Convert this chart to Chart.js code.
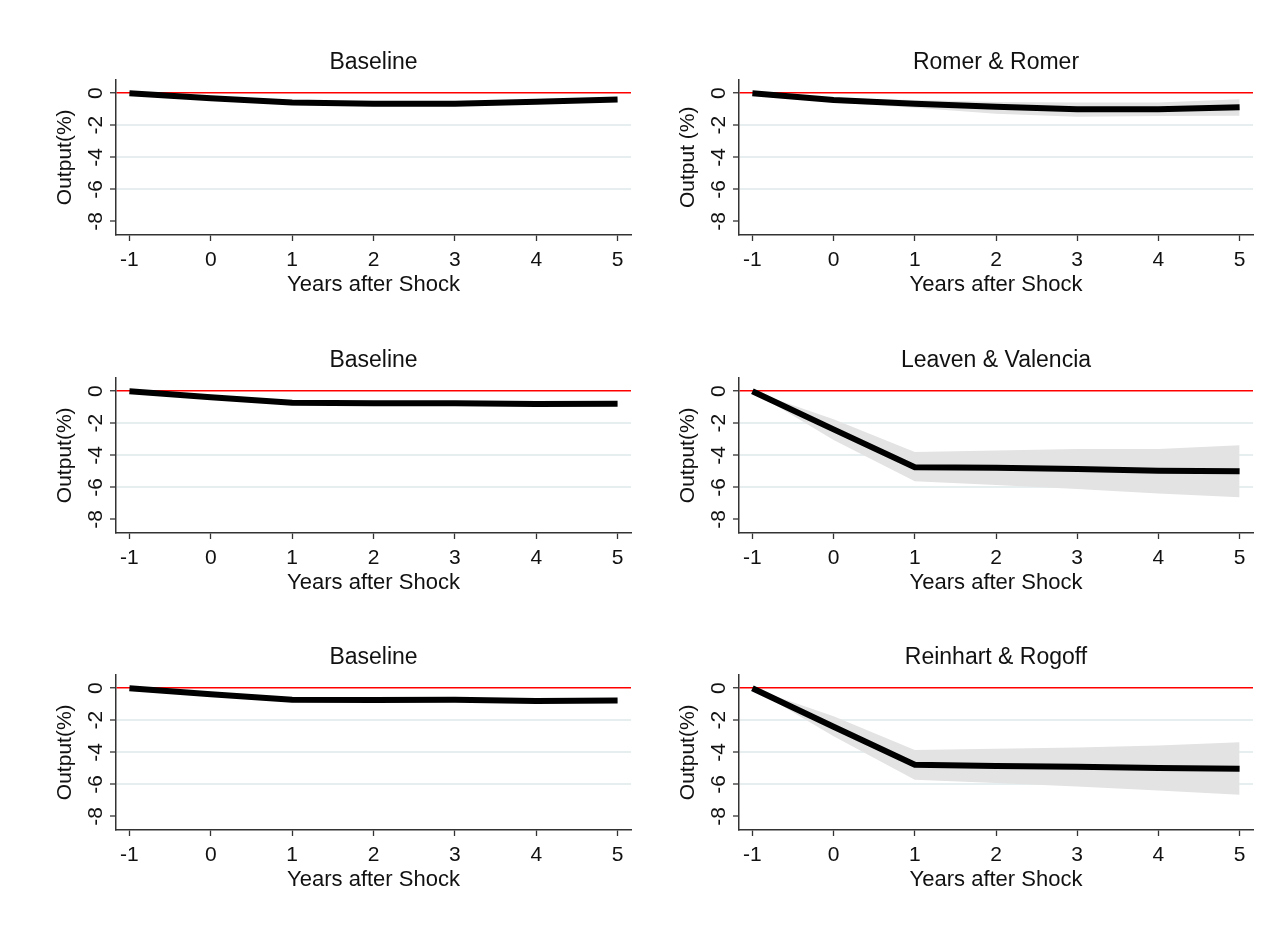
<!DOCTYPE html>
<html><head><meta charset="utf-8">
<script src="https://cdn.jsdelivr.net/npm/chart.js@4.4.1/dist/chart.umd.min.js"></script>
<style>
html,body{margin:0;padding:0;background:#fff;width:1276px;height:933px;overflow:hidden;}
canvas{position:absolute;}
</style></head><body>
<canvas id="c0" width="600" height="290" style="left:40px;top:31px"></canvas>
<canvas id="c1" width="600" height="290" style="left:663px;top:31px"></canvas>
<canvas id="c2" width="600" height="290" style="left:40px;top:329px"></canvas>
<canvas id="c3" width="600" height="290" style="left:663px;top:329px"></canvas>
<canvas id="c4" width="600" height="290" style="left:40px;top:626px"></canvas>
<canvas id="c5" width="600" height="290" style="left:663px;top:626px"></canvas>
<script>
const years = [-1, 0, 1, 2, 3, 4, 5];
const xTicks = [-1, 0, 1, 2, 3, 4, 5];
const yTicks = [0, -2, -4, -6, -8];
const titles = ["Baseline", "Romer & Romer", "Baseline", "Leaven & Valencia", "Baseline", "Reinhart & Rogoff"];
const yTitles = ["Output(%)", "Output (%)", "Output(%)", "Output(%)", "Output(%)", "Output(%)"];
const xTitle = "Years after Shock";

const baseline1 = [0, -0.32, -0.58, -0.65, -0.65, -0.53, -0.39];
const baseline1Lo = [0, -0.40, -0.69, -0.78, -0.78, -0.66, -0.50];
const baseline1Hi = [0, -0.25, -0.48, -0.53, -0.53, -0.41, -0.28];

const romer = [0, -0.43, -0.66, -0.85, -1.0, -1.0, -0.88];
const romerLo = [0, -0.58, -0.90, -1.28, -1.47, -1.42, -1.40];
const romerHi = [0, -0.30, -0.43, -0.55, -0.58, -0.58, -0.37];

const baseline2 = [0, -0.38, -0.72, -0.75, -0.75, -0.80, -0.78];
const baseline2Lo = [0, -0.46, -0.86, -0.89, -0.89, -0.94, -0.92];
const baseline2Hi = [0, -0.30, -0.60, -0.62, -0.62, -0.67, -0.65];

const leaven = [0, -2.38, -4.75, -4.78, -4.85, -4.96, -5.0];
const leavenLo = [0, -3.05, -5.62, -5.85, -6.10, -6.38, -6.62];
const leavenHi = [0, -1.75, -3.80, -3.70, -3.60, -3.60, -3.38];

const baseline3 = [0, -0.38, -0.72, -0.74, -0.72, -0.80, -0.77];
const baseline3Lo = [0, -0.46, -0.86, -0.88, -0.86, -0.94, -0.91];
const baseline3Hi = [0, -0.30, -0.60, -0.61, -0.59, -0.67, -0.64];

const reinhart = [0, -2.40, -4.78, -4.85, -4.90, -4.98, -5.03];
const reinhartLo = [0, -3.00, -5.72, -5.92, -6.13, -6.38, -6.65];
const reinhartHi = [0, -1.75, -3.85, -3.78, -3.70, -3.58, -3.37];

const FONT = "'Liberation Sans', Arial, sans-serif";

function xy(arr) { return years.map((x, i) => ({x: x, y: arr[i]})); }

function makeChart(id, title, yTitle, est, lo, hi, padRight) {
  new Chart(document.getElementById(id), {
    type: 'line',
    data: { datasets: [
      {data: xy(est), borderColor: '#000', borderWidth: 6, pointRadius: 0, fill: false, order: 0},
      {data: xy(lo), borderWidth: 0, pointRadius: 0, fill: false, borderColor: 'rgba(0,0,0,0)', order: 1},
      {data: xy(hi), borderWidth: 0, pointRadius: 0, fill: '-1', backgroundColor: '#e3e3e3', borderColor: 'rgba(0,0,0,0)', order: 2}
    ]},
    options: {
      animation: false, responsive: false, devicePixelRatio: 1,
      layout: {padding: {left: 0, right: padRight, top: 0, bottom: 20}},
      plugins: {
        legend: {display: false}, tooltip: {enabled: false},
        title: {display: true, fullSize: false, text: title, color: '#111', font: {family: FONT, size: 23, weight: 'normal', lineHeight: 1.2}, padding: {top: 18, bottom: 3}}
      },
      scales: {
        x: {
          type: 'linear', min: -1.165, max: 5.165,
          afterBuildTicks: s => { s.ticks = xTicks.map(v => ({value: v})); },
          afterFit: s => { s.height = 66; },
          grid: {drawOnChartArea: false, drawTicks: true, tickLength: 6, tickColor: '#333', tickWidth: 1.3},
          border: {display: true, color: '#333', width: 1.5},
          ticks: {color: '#111', font: {family: FONT, size: 21}, padding: 7, maxRotation: 0, autoSkip: false},
          title: {display: true, text: xTitle, color: '#111', font: {family: FONT, size: 22, lineHeight: 1.2}, padding: {top: 0, bottom: 3}}
        },
        y: {
          type: 'linear', min: -8.85, max: 0.85,
          afterBuildTicks: s => { s.ticks = yTicks.map(v => ({value: v})); },
          afterFit: s => { s.width = 76; },
          grid: {
            drawOnChartArea: true, drawTicks: true, tickLength: 6, tickColor: '#333', tickWidth: 1.3,
            color: c => c.tick.value === 0 ? '#ff0000' : (c.tick.value === -8 ? 'rgba(0,0,0,0)' : '#e7eef0'),
            lineWidth: c => c.tick.value === 0 ? 1.5 : 2
          },
          border: {display: true, color: '#333', width: 1.5},
          ticks: {color: '#111', font: {family: FONT, size: 21}, padding: 4, minRotation: 90, maxRotation: 90, crossAlign: 'center', autoSkip: false},
          title: {display: true, text: yTitle, color: '#111', font: {family: FONT, size: 21, lineHeight: 1.2}, padding: {top: 13, bottom: 0}}
        }
      }
    }
  });
}

makeChart('c0', titles[0], yTitles[0], baseline1, baseline1Lo, baseline1Hi, 9);
makeChart('c1', titles[1], yTitles[1], romer, romerLo, romerHi, 10);
makeChart('c2', titles[2], yTitles[2], baseline2, baseline2Lo, baseline2Hi, 9);
makeChart('c3', titles[3], yTitles[3], leaven, leavenLo, leavenHi, 10);
makeChart('c4', titles[4], yTitles[4], baseline3, baseline3Lo, baseline3Hi, 9);
makeChart('c5', titles[5], yTitles[5], reinhart, reinhartLo, reinhartHi, 10);
</script>
</body></html>
